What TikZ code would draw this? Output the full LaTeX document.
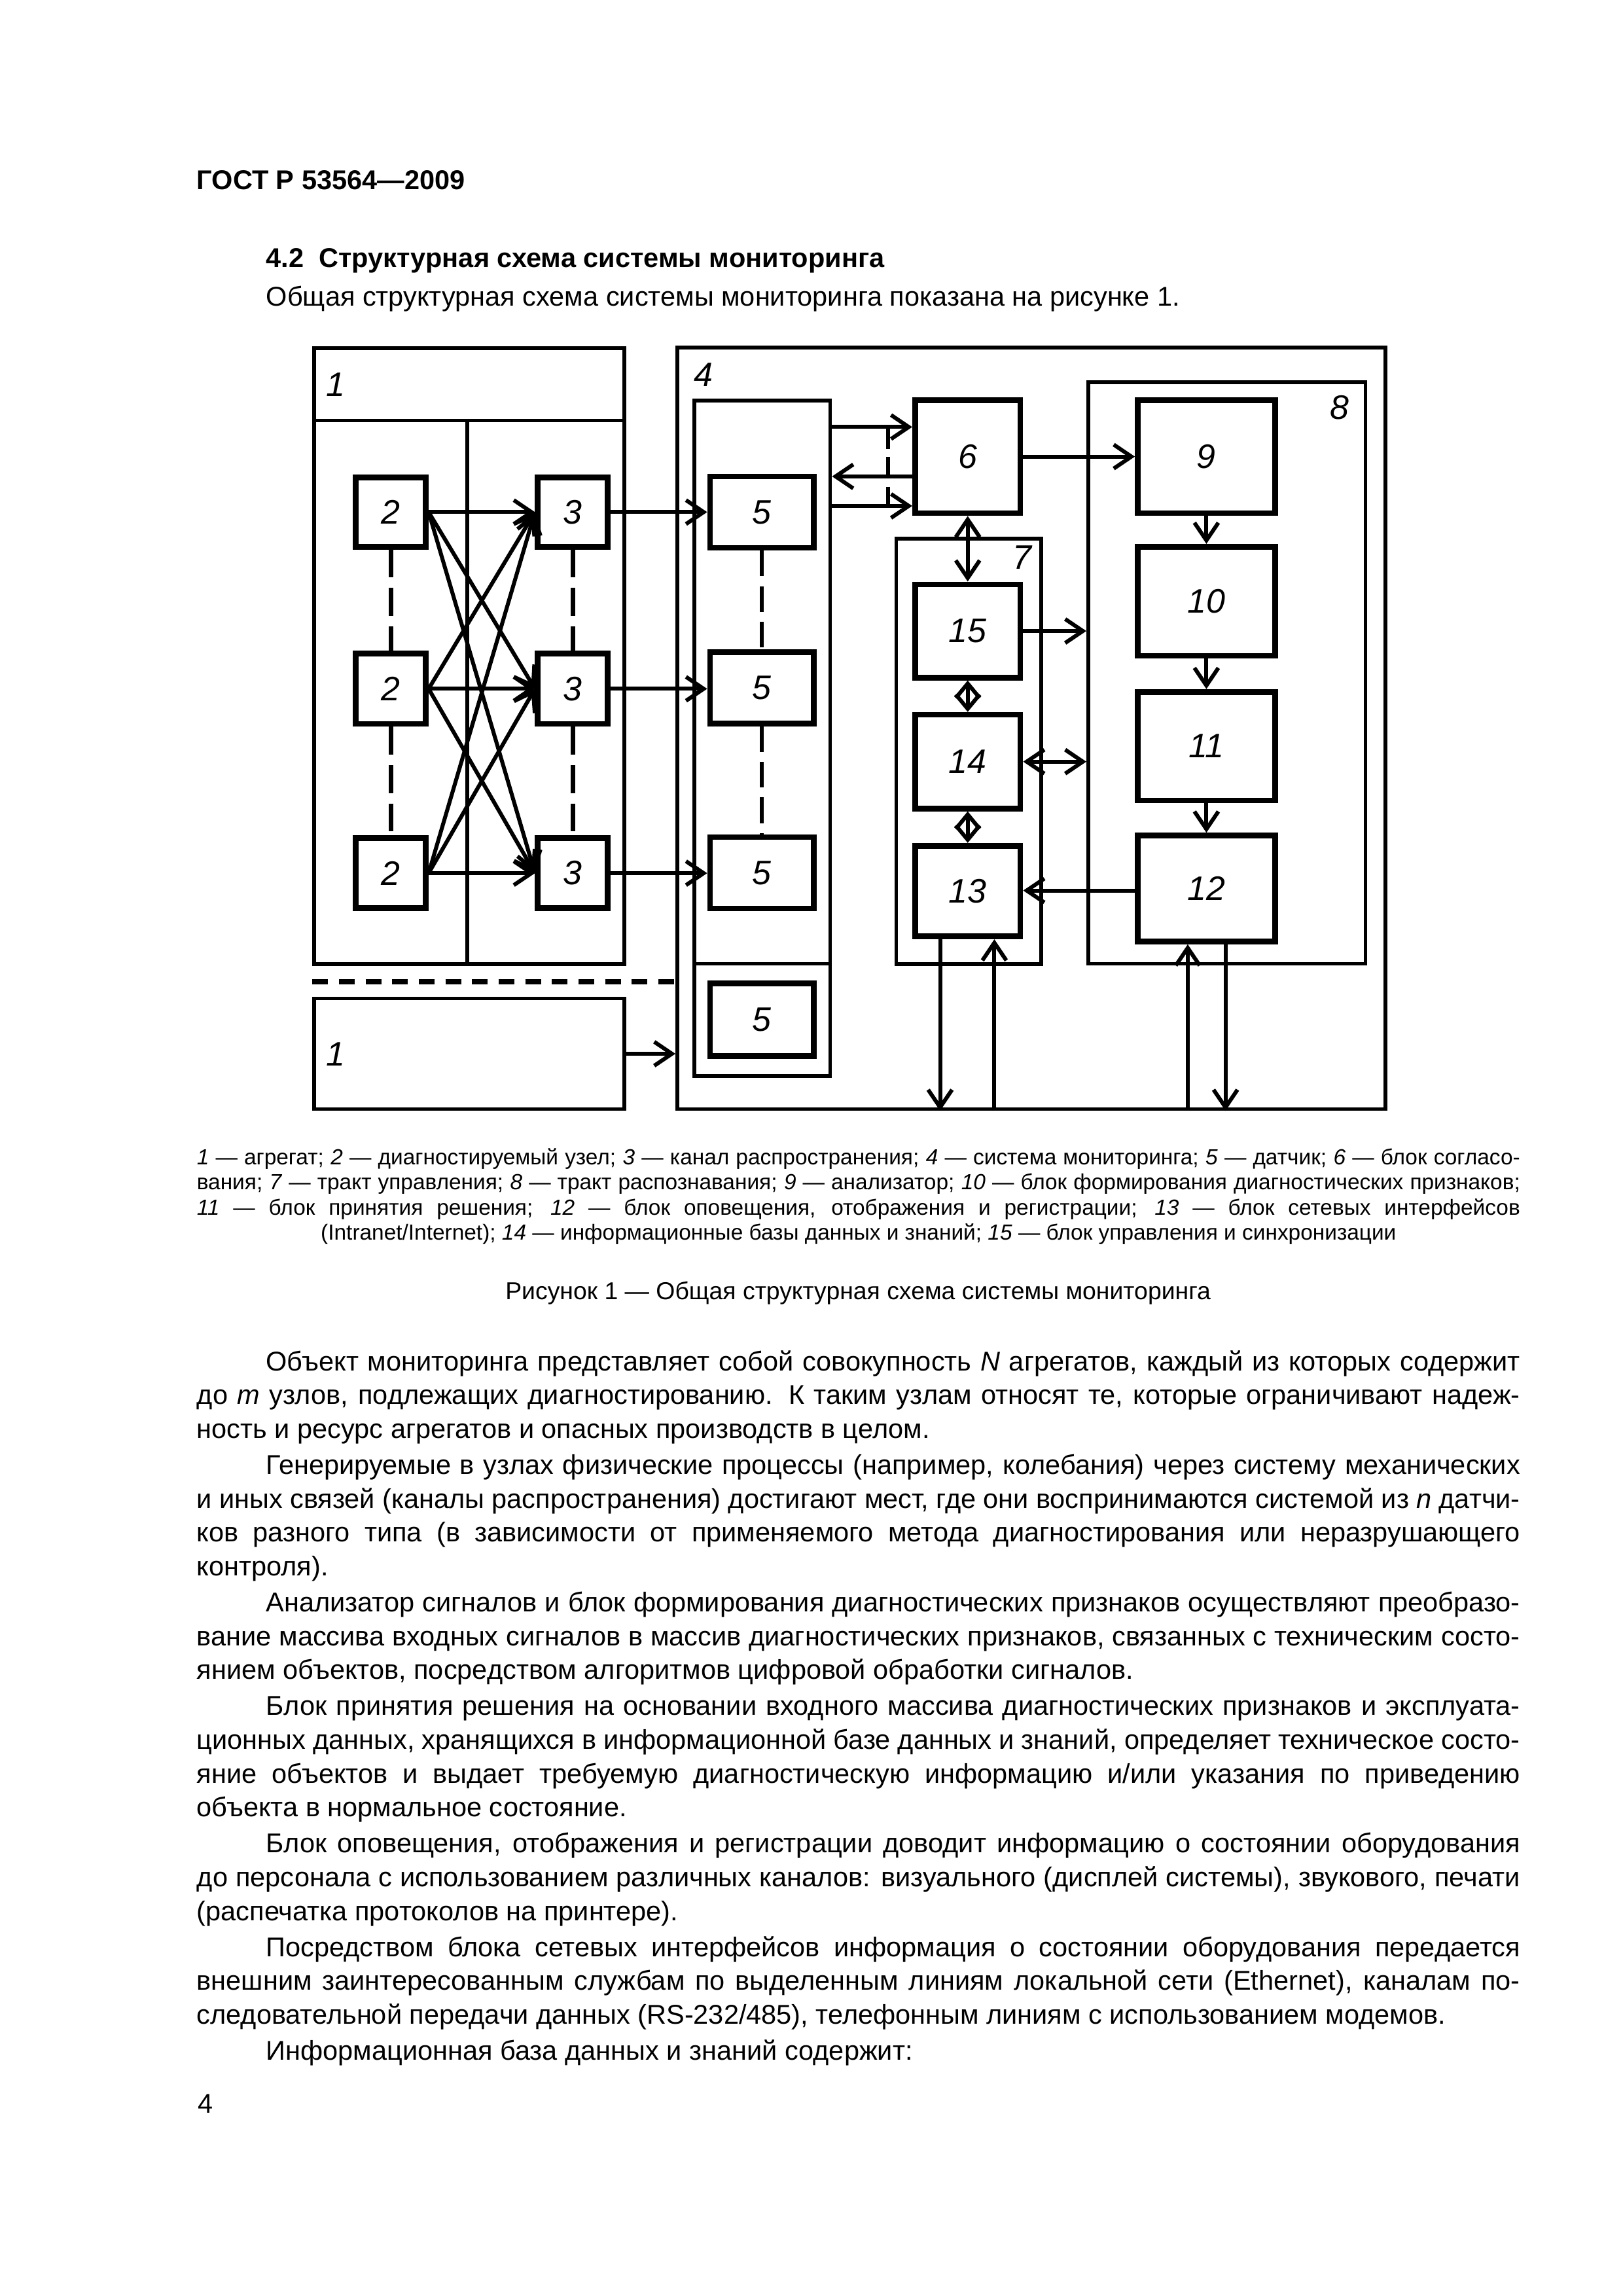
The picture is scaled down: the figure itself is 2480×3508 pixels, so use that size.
\documentclass[tikz,border=0pt]{standalone}
\usepackage{fontspec}
\setmainfont{Liberation Sans}
\usetikzlibrary{arrows.meta}
\newcommand{\lbl}{\fontsize{12.5}{14}\selectfont\itshape}
\newcommand{\txt}{\fontsize{10}{12.45}\selectfont}
\newcommand{\pin}{\hspace*{25.5pt}}

\begin{document}
\begin{tikzpicture}[x=0.2409pt, y=-0.2409pt,
  >={Straight Barb[length=6.5pt,width=8.8pt]},
  thk/.style 2 args={draw, line width=2.1pt, inner sep=0pt, font=\lbl,
    minimum width=#1*0.2409pt, minimum height=#2*0.2409pt},
  frm/.style 2 args={draw, line width=1.35pt, inner sep=0pt,
    minimum width=#1*0.2409pt, minimum height=#2*0.2409pt},
  ln/.style={line width=1.45pt},
  dbl/.style={line width=1.45pt, {Straight Barb[length=5.3pt,width=8.8pt]}-{Straight Barb[length=5.3pt,width=8.8pt]}},
  dsh/.style={line width=1.6pt, dash pattern=on 10.3pt off 3.8pt},
  txtbox/.style={anchor=base west, inner sep=0pt, text width=487.1pt, align=justify}
]
  \path[fill=white] (0,0) rectangle (2480,3508);

  %% page head
  \node (hdr) [anchor=base west, inner sep=0pt, font=\fontsize{10}{12}\selectfont\bfseries] at (300,289) {ГОСТ Р 53564—2009};
  \node (sec) [anchor=base west, inner sep=0pt, font=\fontsize{10}{12}\selectfont\bfseries] at (406,408) {4.2\ \ Структурная схема системы мониторинга};
  \node (intro) [anchor=base west, inner sep=0pt, font=\txt] at (406,467) {Общая структурная схема системы мониторинга показана на рисунке 1.};

  %% frames
  \node (f1) [frm={474}{941}] at (717,1002.2) {};
  \node (f1b) [frm={474}{169}] at (717,1610) {};
  \node (f4) [frm={1082}{1163.5}] at (1575.9,1112.75) {};
  \node (col) [frm={207.6}{1032}] at (1164.8,1128) {};
  \node (f7) [frm={221.3}{650}] at (1480.2,1147.7) {};
  \node (f8) [frm={423.8}{888.7}] at (1874.7,1028.3) {};

  \node (l1a) [font=\lbl] at (513,588) {1};
  \node (l1b) [font=\lbl] at (513,1611) {1};
  \node (l4) [font=\lbl] at (1075,572.5) {4};
  \node (l7) [font=\lbl] at (1562,852) {7};
  \node (l8) [font=\lbl] at (2047,623) {8};

  \draw[line width=1.35pt] (f1.west |- 0,642.3) -- (f1.east |- 0,642.3);
  \draw[line width=1.35pt] (714,642.3) -- (f1.south -| 714,0);
  \draw[line width=1.35pt] (col.west |- 0,1472.6) -- (col.east |- 0,1472.6);

  %% nodes 2, 3, 5
  \node (b2a) [thk={106.8}{105.8}] at (597.2,782.4) {2};
  \node (b2b) [thk={106.8}{107.4}] at (597.2,1052.4) {2};
  \node (b2c) [thk={106.8}{107.4}] at (597.2,1334.1) {2};
  \node (b3a) [thk={106.8}{105.8}] at (875.2,782.4) {3};
  \node (b3b) [thk={106.8}{107.4}] at (875.2,1052.4) {3};
  \node (b3c) [thk={106.8}{107.4}] at (875.2,1334.1) {3};
  \node (b5a) [thk={158.5}{108.9}] at (1164.2,782.4) {5};
  \node (b5b) [thk={158.5}{108.9}] at (1164.2,1050.9) {5};
  \node (b5c) [thk={158.5}{108.9}] at (1164.2,1333.4) {5};
  \node (b5d) [thk={158.5}{111.3}] at (1164.2,1557.9) {5};

  %% blocks 6, 9 - 15
  \node (b6) [thk={160.8}{172.7}] at (1478.7,697.6) {6};
  \node (b15) [thk={160.8}{142.4}] at (1478.7,964.1) {15};
  \node (b14) [thk={160.8}{143.2}] at (1478.7,1163.7) {14};
  \node (b13) [thk={160.8}{138.5}] at (1478.7,1361.4) {13};
  \node (b9) [thk={209.7}{172.7}] at (1843.4,697.6) {9};
  \node (b10) [thk={209.7}{166.5}] at (1843.4,918.6) {10};
  \node (b11) [thk={209.7}{165.7}] at (1843.4,1140) {11};
  \node (b12) [thk={209.7}{161.9}] at (1843.4,1357.5) {12};

  %% propagation channels
  \foreach \i in {a,b,c}{
    \foreach \j in {a,b,c}{
      \draw[ln,->] (b2\i.east) -- (b3\j.west);
    }
    \draw[ln,->] (b3\i.east) -- (b5\i.west |- b3\i.east);
  }
  \draw[dsh] (b2a.south) -- (b2b.north);
  \draw[dsh] (b2b.south) -- (b2c.north);
  \draw[dsh] (b3a.south) -- (b3b.north);
  \draw[dsh] (b3b.south) -- (b3c.north);
  \draw[ln, dash pattern=on 9.4pt off 3.7pt] (b5a.south) -- (b5b.north);
  \draw[ln, dash pattern=on 9.4pt off 3.7pt] (b5b.south) -- (b5c.north);
  \draw[line width=1.7pt, dash pattern=on 5.8pt off 4pt] (f1.west |- 0,1500) -- (f4.west |- 0,1500);
  \draw[ln,->] (f1b.east) -- (f4.west |- f1b.east);

  %% sensors <-> 6
  \draw[ln,->] (col.east |- 0,652.4) -- (b6.west |- 0,652.4);
  \draw[ln,->] (b6.west |- 0,727.9) -- (col.east |- 0,727.9);
  \draw[ln,->] (col.east |- 0,773) -- (b6.west |- 0,773);
  \draw[ln, dash pattern=on 8pt off 3pt] (1357.3,652.4) -- (1357.3,773);

  %% recognition path
  \draw[ln,->] (b6.east) -- (b9.west);
  \draw[ln,->] (b9.south) -- (b10.north);
  \draw[ln,->] (b10.south) -- (b11.north);
  \draw[ln,->] (b11.south) -- (b12.north);

  %% control path
  \draw[ln,<->] (b6.south) -- (b15.north);
  \draw[dbl] (b15.south) -- (b14.north);
  \draw[dbl] (b14.south) -- (b13.north);
  \draw[ln,->] (b15.east) -- (f8.west |- b15.east);
  \draw[ln,<->] (b14.east) -- (f8.west |- b14.east);
  \draw[ln,->] (b12.west |- 0,1360.6) -- (b13.east |- 0,1360.6);

  %% outputs
  \draw[ln,->] (b13.south -| 1436.5,0) -- (f4.south -| 1436.5,0);
  \draw[ln,->] (f4.south -| 1519.4,0) -- (b13.south -| 1519.4,0);
  \draw[ln,->] (f4.south -| 1814.9,0) -- (b12.south -| 1814.9,0);
  \draw[ln,->] (b12.south -| 1872.6,0) -- (f4.south -| 1872.6,0);

  %% legend and caption
  \node (leg) [txtbox, font=\fontsize{8.05}{9.3}\selectfont] at (300,1779) {\fontdimen4\font=1.1pt\hyphenpenalty=10000\tolerance=9999
    \textit{1} — агрегат; \textit{2} — диагностируемый узел; \textit{3} — канал распространения; \textit{4} — система мониторинга; \textit{5} — датчик; \textit{6} — блок согласо-\linebreak
    вания; \textit{7} — тракт управления; \textit{8} — тракт распознавания; \textit{9} — анализатор; \textit{10} — блок формирования диагностических признаков;\linebreak
    \textit{11} — блок принятия решения; \textit{12} — блок оповещения, отображения и регистрации; \textit{13} — блок сетевых интерфейсов\linebreak
    \hspace*{\fill}(Intranet/Internet); \textit{14} — информационные базы данных и знаний; \textit{15} — блок управления и синхронизации\hspace*{\fill}\null};
  \node (cap) [anchor=base, inner sep=0pt, font=\fontsize{9}{11}\selectfont] at (1311,1985) {Рисунок 1 — Общая структурная схема системы мониторинга};

  %% body text
  \node (body) [txtbox, font=\txt] at (300,2094) {\hyphenpenalty=10000\tolerance=9999\setlength{\parskip}{0.8pt}%
    \pin Объект мониторинга представляет собой совокупность \textit{N} агрегатов, каждый из которых содержит\linebreak
    до \textit{m} узлов, подлежащих диагностированию. К таким узлам относят те, которые ограничивают надеж-\linebreak
    ность и ресурс агрегатов и опасных производств в целом.\par
    \pin Генерируемые в узлах физические процессы (например, колебания) через систему механических\linebreak
    и иных связей (каналы распространения) достигают мест, где они воспринимаются системой из \textit{n} датчи-\linebreak
    ков разного типа (в зависимости от применяемого метода диагностирования или неразрушающего\linebreak
    контроля).\par
    \pin Анализатор сигналов и блок формирования диагностических признаков осуществляют преобразо-\linebreak
    вание массива входных сигналов в массив диагностических признаков, связанных с техническим состо-\linebreak
    янием объектов, посредством алгоритмов цифровой обработки сигналов.\par
    \pin Блок принятия решения на основании входного массива диагностических признаков и эксплуата-\linebreak
    ционных данных, хранящихся в информационной базе данных и знаний, определяет техническое состо-\linebreak
    яние объектов и выдает требуемую диагностическую информацию и/или указания по приведению\linebreak
    объекта в нормальное состояние.\par
    \pin Блок оповещения, отображения и регистрации доводит информацию о состоянии оборудования\linebreak
    до персонала с использованием различных каналов: визуального (дисплей системы), звукового, печати\linebreak
    (распечатка протоколов на принтере).\par
    \pin Посредством блока сетевых интерфейсов информация о состоянии оборудования передается\linebreak
    внешним заинтересованным службам по выделенным линиям локальной сети (Ethernet), каналам по-\linebreak
    следовательной передачи данных (RS-232/485), телефонным линиям с использованием модемов.\par
    \pin Информационная база данных и знаний содержит:};
  \node (pgno) [anchor=base west, inner sep=0pt, font=\txt] at (302,3228) {4};
\end{tikzpicture}
\end{document}
